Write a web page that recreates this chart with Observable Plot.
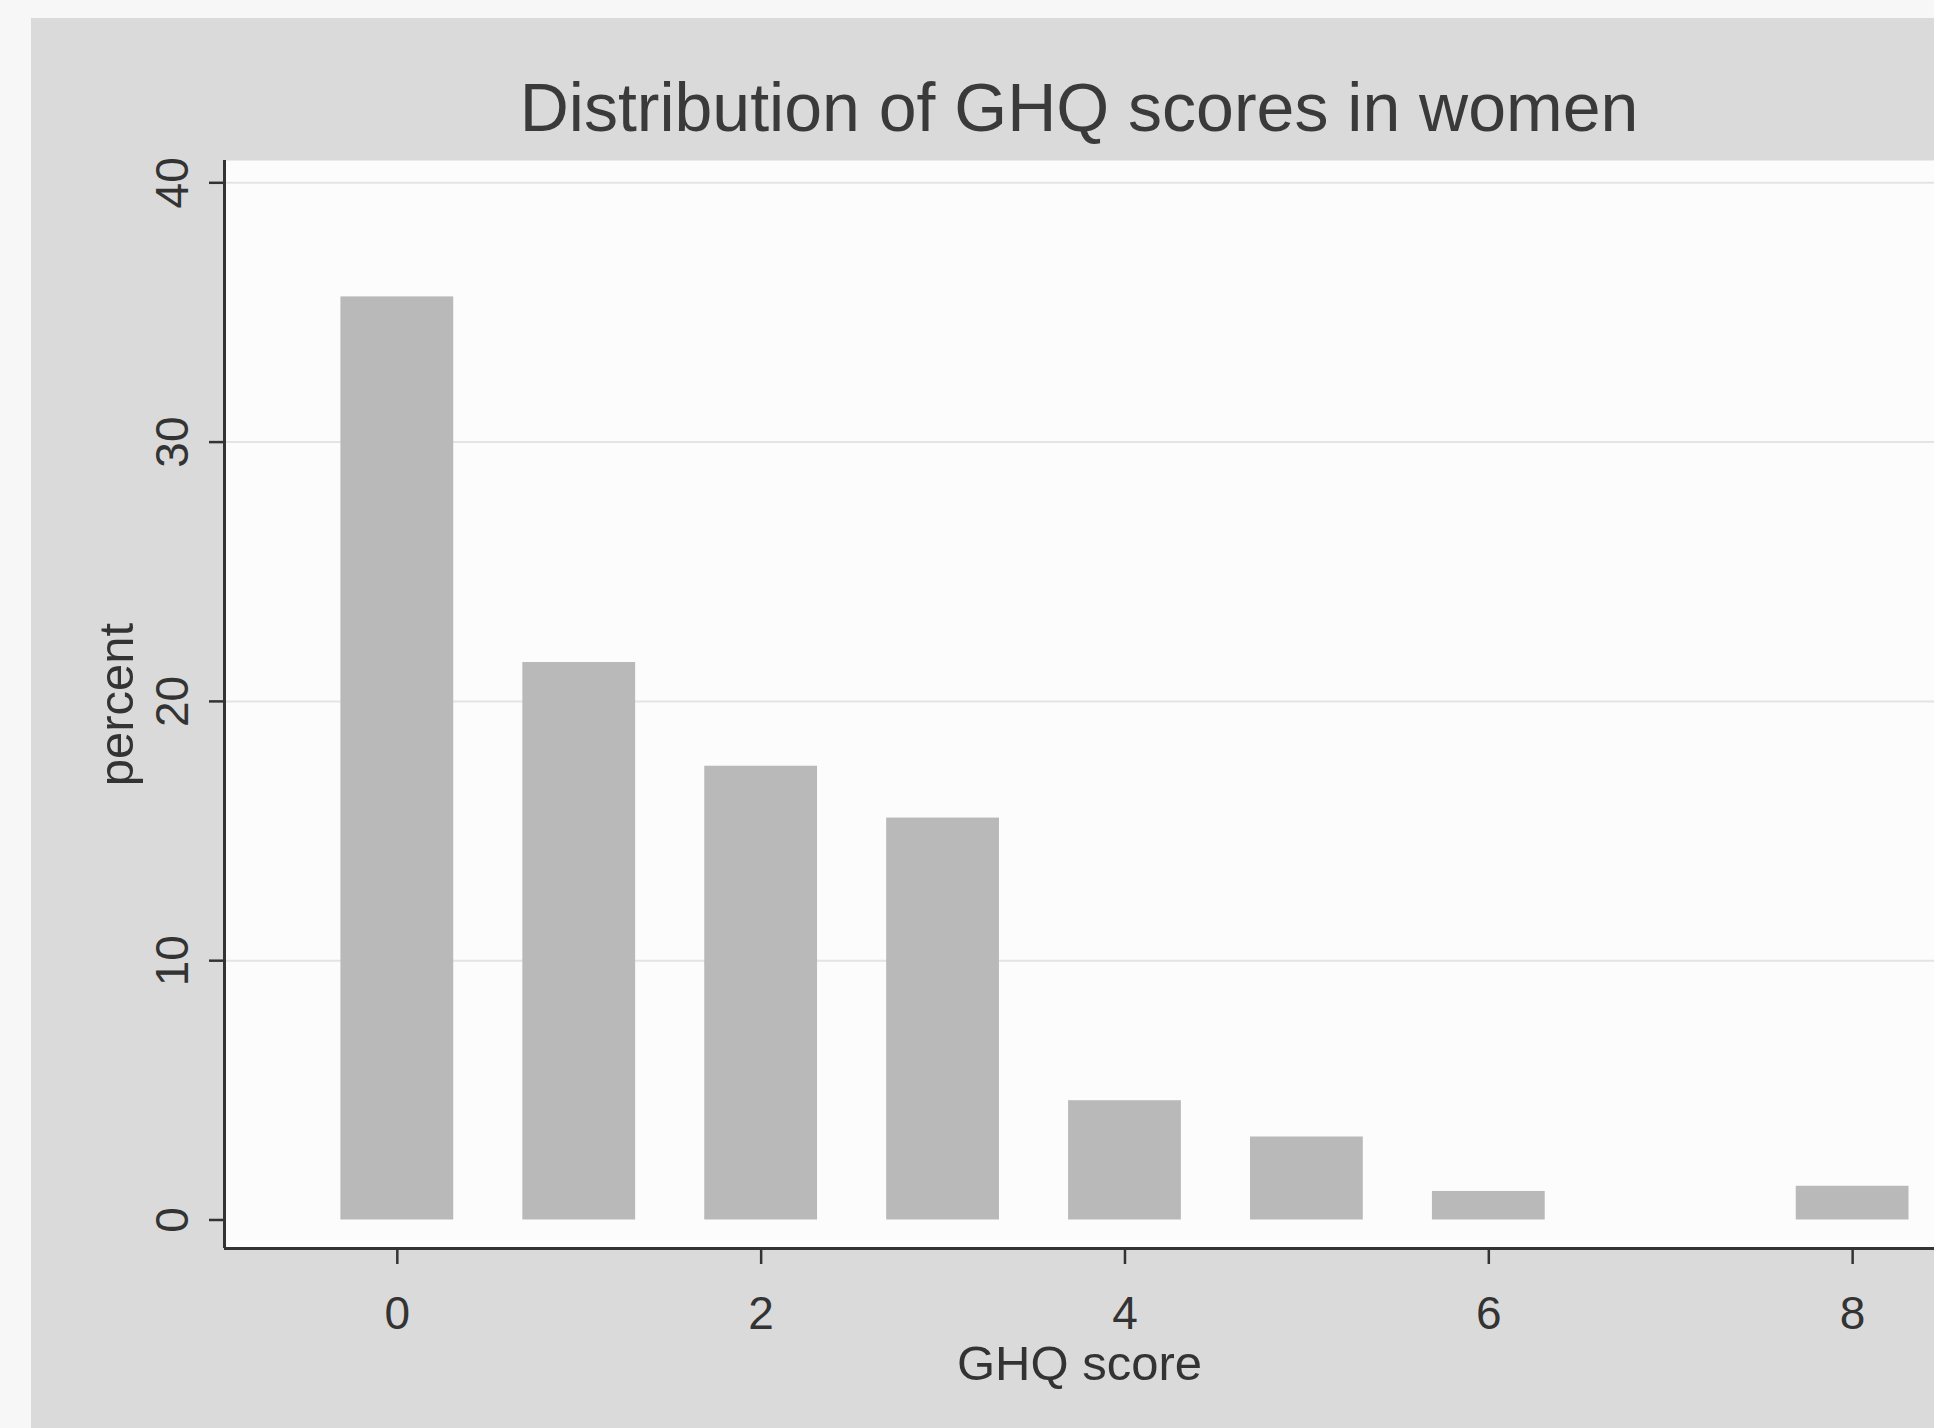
<!DOCTYPE html>
<html>
<head>
<meta charset="utf-8">
<script src="https://cdn.jsdelivr.net/npm/d3@7"></script>
<script src="https://cdn.jsdelivr.net/npm/@observablehq/plot@0.6"></script>
<style>
  html, body { margin: 0; padding: 0; background: #f7f7f7; }
  #wrap { position: absolute; left: 31px; top: 18px; width: 1903px; height: 1410px; background: #dadada; overflow: hidden; }
  #title { position: absolute; left: 193px; width: 1710px; top: 55px; text-align: center;
           font-family: "Liberation Sans", Arial, sans-serif; font-size: 68px; line-height: 68px; color: #3a3a3a; }
  #chart { position: absolute; left: 0; top: 72px; }
</style>
</head>
<body>
<div id="wrap">
  <div id="title">Distribution of GHQ scores in women</div>
  <div id="chart"></div>
</div>
<script>
// GHQ score categories and percent of women
const scores = [0, 1, 2, 3, 4, 5, 6, 7, 8];
const percents = [35.6, 21.5, 17.5, 15.5, 4.6, 3.2, 1.1, 0, 1.3];
const xTicks = [0, 2, 4, 6, 8];
const yTicks = [0, 10, 20, 30, 40];
const gridTicks = [10, 20, 30, 40];
const xDomain = [-0.95, 8.45];
const yDomain = [-1.1, 40.86];
const xLabel = "GHQ score";
const yLabel = "percent";

const data = scores.map((s, i) => ({score: s, percent: percents[i]}));
const half = 0.31;

const chart = Plot.plot({
  width: 1903,
  height: 1338,
  marginLeft: 193,
  marginRight: 0,
  marginTop: 70,
  marginBottom: 180,
  style: {fontFamily: "Liberation Sans, Arial, sans-serif", color: "#333", background: "transparent", overflow: "visible"},
  x: {domain: xDomain},
  y: {domain: yDomain},
  marks: [
    Plot.frame({fill: "#fcfcfc", stroke: "none"}),
    Plot.gridY(gridTicks, {stroke: "#e4e4e4", strokeOpacity: 1, strokeWidth: 2}),
    Plot.rectY(data, {x1: d => d.score - half, x2: d => d.score + half, y1: 0, y2: "percent", fill: "#b9b9b9"}),
    Plot.ruleY([yDomain[0]], {stroke: "#333", strokeWidth: 3}),
    Plot.ruleX([xDomain[0]], {stroke: "#333", strokeWidth: 3}),
    Plot.axisX({ticks: xTicks, tickSize: 16, tickPadding: 32, fontSize: 46, label: null, stroke: "#333", strokeWidth: 2.5}),
    Plot.axisY({ticks: yTicks, tickSize: 15, tickFormat: () => "", label: null, stroke: "#333", strokeWidth: 2.5}),
    Plot.text(yTicks, {y: d => d, text: d => String(d), frameAnchor: "left", textAnchor: "middle", rotate: -90, dx: -51, fontSize: 46, fill: "#333"}),
    Plot.text([xLabel], {text: d => d, frameAnchor: "bottom", textAnchor: "middle", dy: 131, fontSize: 49, fill: "#333"}),
    Plot.text([yLabel], {text: d => d, frameAnchor: "left", textAnchor: "middle", rotate: -90, dx: -107, fontSize: 49, fill: "#333"})
  ]
});
document.getElementById("chart").appendChild(chart);
</script>
</body>
</html>
